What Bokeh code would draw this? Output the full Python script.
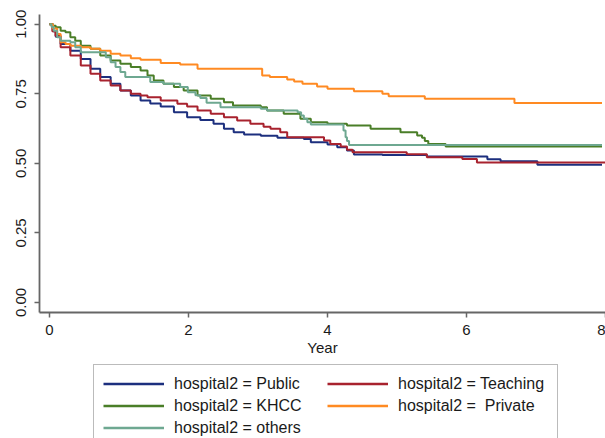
from bokeh.plotting import figure
from bokeh.layouts import column
from bokeh.models import (ColumnDataSource, Legend, LegendItem, FixedTicker,
                          NumeralTickFormatter, Range1d)
from bokeh.embed import file_html
from bokeh.resources import INLINE

# ---- data ----
series_names = ["hospital2 = Public", "hospital2 = Teaching", "hospital2 = KHCC",
                "hospital2 =  Private", "hospital2 = others"]
series_colors = ["#1c2f7e", "#a8222e", "#4a7e28", "#ff8a22", "#6ea891"]

public_t = [0, 0.05, 0.09, 0.16, 0.30, 0.45, 0.59, 0.73, 0.88, 1.02, 1.17, 1.31, 1.45,
            1.60, 1.79, 1.98, 2.17, 2.36, 2.51, 2.65, 2.80, 3.04, 3.28, 3.66, 3.76, 4.00,
            4.14, 4.28, 4.38, 4.79, 5.43, 6.30, 6.49, 7.02, 7.95]
public_s = [1.0, 0.975, 0.955, 0.929, 0.905, 0.875, 0.840, 0.810, 0.786, 0.762, 0.744,
            0.726, 0.715, 0.704, 0.684, 0.666, 0.656, 0.642, 0.624, 0.612, 0.604, 0.599,
            0.592, 0.588, 0.576, 0.568, 0.558, 0.546, 0.532, 0.530, 0.525, 0.515, 0.508,
            0.495, 0.495]

teaching_t = [0, 0.04, 0.086, 0.16, 0.30, 0.45, 0.59, 0.73, 0.88, 1.02, 1.17, 1.31, 1.41,
              1.60, 1.84, 1.98, 2.13, 2.32, 2.51, 2.70, 2.89, 3.08, 3.18, 3.32, 3.42, 3.95,
              4.04, 4.19, 4.28, 4.36, 5.14, 5.43, 5.94, 6.15, 8.0]
teaching_s = [1.0, 0.975, 0.959, 0.917, 0.888, 0.852, 0.822, 0.798, 0.780, 0.762, 0.750,
              0.744, 0.738, 0.726, 0.714, 0.704, 0.690, 0.678, 0.666, 0.654, 0.642, 0.632,
              0.624, 0.612, 0.594, 0.582, 0.570, 0.561, 0.549, 0.540, 0.533, 0.522, 0.516,
              0.503, 0.503]

khcc_t = [0, 0.05, 0.09, 0.16, 0.23, 0.30, 0.37, 0.45, 0.59, 0.73, 0.88, 1.02, 1.17, 1.31,
          1.41, 1.50, 1.64, 1.79, 1.93, 2.13, 2.32, 2.51, 2.64, 3.04, 3.13, 3.37, 3.61, 3.76,
          4.00, 4.28, 4.62, 5.05, 5.29, 5.36, 5.40, 5.45, 5.70, 7.95]
khcc_s = [1.0, 0.995, 0.989, 0.977, 0.971, 0.953, 0.941, 0.923, 0.912, 0.888, 0.870, 0.858,
          0.846, 0.834, 0.816, 0.798, 0.786, 0.774, 0.762, 0.744, 0.732, 0.720, 0.708, 0.702,
          0.690, 0.678, 0.660, 0.648, 0.642, 0.636, 0.624, 0.612, 0.600, 0.592, 0.580, 0.570,
          0.561, 0.561]

private_t = [0, 0.05, 0.11, 0.16, 0.23, 0.30, 0.45, 0.59, 0.73, 0.88, 1.02, 1.17, 1.31, 1.60,
             1.88, 2.13, 3.06, 3.17, 3.42, 3.52, 3.64, 3.85, 4.00, 4.38, 4.79, 4.88, 5.40,
             6.69, 7.95]
private_s = [1.0, 0.985, 0.965, 0.935, 0.929, 0.923, 0.917, 0.912, 0.905, 0.894, 0.888,
             0.878, 0.872, 0.861, 0.855, 0.840, 0.816, 0.810, 0.801, 0.794, 0.786, 0.776,
             0.768, 0.759, 0.750, 0.741, 0.732, 0.717, 0.717]

others_t = [0, 0.03, 0.06, 0.11, 0.16, 0.30, 0.37, 0.45, 0.81, 0.88, 0.95, 1.02, 1.09, 1.45,
            1.64, 1.88, 1.99, 2.10, 2.17, 2.26, 2.46, 3.04, 3.13, 3.57, 3.62, 3.66, 3.71,
            3.76, 4.23, 4.26, 4.28, 4.31, 7.95]
others_s = [1.0, 0.99, 0.977, 0.953, 0.941, 0.935, 0.917, 0.899, 0.881, 0.863, 0.846, 0.828,
            0.810, 0.792, 0.786, 0.774, 0.756, 0.745, 0.735, 0.718, 0.702, 0.696, 0.690,
            0.684, 0.672, 0.660, 0.648, 0.640, 0.618, 0.594, 0.580, 0.566, 0.566]

x_ticks = [0, 2, 4, 6, 8]
y_ticks = [0.0, 0.25, 0.5, 0.75, 1.0]
x_title = "Year"

all_t = [public_t, teaching_t, khcc_t, private_t, others_t]
all_s = [public_s, teaching_s, khcc_s, private_s, others_s]

FONT = "Liberation Sans"
TEXT = "#1a1a1a"
AXIS = "#666666"

# ---- main survival plot ----
p = figure(width=605, height=358, output_backend="svg", toolbar_location=None,
           x_range=Range1d(-0.144, 8.0), y_range=Range1d(-0.036, 1.035),
           min_border_left=39, min_border_right=0, min_border_top=14,
           min_border_bottom=46)
p.outline_line_color = None
p.grid.grid_line_color = None
p.background_fill_color = "white"
p.border_fill_color = "white"

# ---- legend strip under it ----
lg = figure(width=605, height=80, output_backend="svg", toolbar_location=None,
            x_range=Range1d(100, 101), y_range=Range1d(100, 101),
            min_border=0, x_axis_location=None, y_axis_location=None)
lg.outline_line_color = None
lg.grid.grid_line_color = None
lg.background_fill_color = "white"
lg.border_fill_color = "white"

items = []
for name, col, t, s in zip(series_names, series_colors, all_t, all_s):
    src = ColumnDataSource(dict(t=t, s=s))
    p.step(x="t", y="s", source=src, mode="after", line_width=2, line_color=col)
    # same series in the legend strip (outside its ranges), used for the key glyph
    r2 = lg.step(x="t", y="s", source=src, mode="after", line_width=2.4, line_color=col)
    items.append(LegendItem(label=name, renderers=[r2]))

for ax in (p.xaxis[0], p.yaxis[0]):
    ax.axis_line_color = AXIS
    ax.axis_line_width = 1.8
    ax.major_tick_line_color = AXIS
    ax.major_tick_line_width = 1.5
    ax.major_tick_out = 5
    ax.major_tick_in = 0
    ax.minor_tick_line_color = None
    ax.major_label_text_font = FONT
    ax.major_label_text_font_size = "15px"
    ax.major_label_text_color = TEXT

p.xaxis.ticker = FixedTicker(ticks=x_ticks)
p.xaxis.axis_label = x_title
p.xaxis.axis_label_text_font = FONT
p.xaxis.axis_label_text_font_size = "15px"
p.xaxis.axis_label_text_font_style = "normal"
p.xaxis.axis_label_text_color = TEXT
p.xaxis.axis_label_standoff = 1
p.xaxis.major_label_standoff = 7

p.yaxis.ticker = FixedTicker(ticks=y_ticks)
p.yaxis.formatter = NumeralTickFormatter(format="0.00")
p.yaxis.major_label_orientation = "vertical"
p.yaxis.major_label_standoff = 8

# legend laid out row by row (Bokeh fills columns first)
order = [0, 2, 4, 1, 3]
legend = Legend(items=[items[i] for i in order], ncols=2, location=(54, -9),
                label_text_font=FONT, label_text_font_size="16px",
                label_text_color=TEXT, glyph_width=61, glyph_height=19,
                label_height=19, label_width=150, label_standoff=10, spacing=3,
                padding=9, border_line_color="#777777", border_line_width=1.5,
                background_fill_color="white", background_fill_alpha=1.0)
lg.add_layout(legend, "center")

layout = column(p, lg, spacing=0)
open("out.html", "w").write(file_html(layout, INLINE))
